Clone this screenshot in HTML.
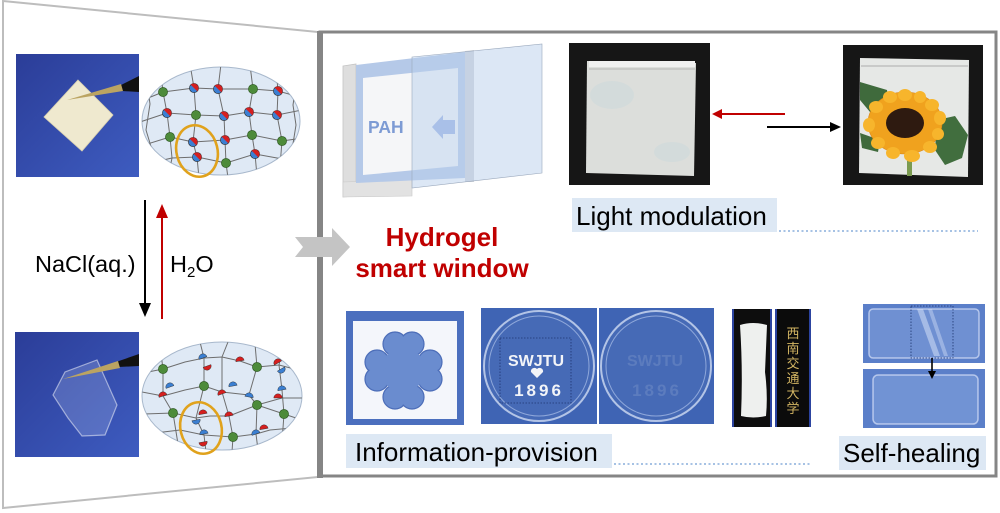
<!DOCTYPE html>
<html><head><meta charset="utf-8">
<style>
html,body{margin:0;padding:0;background:#fff;}
svg{display:block;}
text{font-family:"Liberation Sans",Arial,sans-serif;}
</style></head>
<body>
<svg width="1000" height="513" viewBox="0 0 1000 513" xmlns="http://www.w3.org/2000/svg">
<defs>
  <linearGradient id="lb" x1="0" y1="0" x2="1" y2="1">
    <stop offset="0" stop-color="#2b3d98"/><stop offset="1" stop-color="#3e5cc0"/>
  </linearGradient>
  <clipPath id="c1"><ellipse cx="221" cy="121" rx="79" ry="54"/></clipPath>
  <clipPath id="c2"><ellipse cx="222" cy="396" rx="80" ry="54"/></clipPath>
  <g id="bi"><circle r="4.6" fill="#3b7fd2" stroke="#2a2a2a" stroke-width="0.6"/><path d="M-3.25,-3.25 A4.6,4.6 0 0 1 3.25,3.25 Z" fill="#d51f1f"/></g>
  <g id="gr"><circle r="4.6" fill="#4d8b3a" stroke="#2c5520" stroke-width="0.6"/></g>
  <path id="hb" d="M-4.2,0 A4.2,4.2 0 0 1 4.2,0 Z" fill="#3b7fd2" stroke="#2a2a2a" stroke-width="0.4"/>
  <path id="hr" d="M-4.2,0 A4.2,4.2 0 0 1 4.2,0 Z" fill="#d51f1f" stroke="#2a2a2a" stroke-width="0.4"/>
</defs>

<!-- left trapezoid panel -->
<polygon points="3,1 318,32 318,477 3,508" fill="#fff" stroke="#bdbdbd" stroke-width="2"/>

<!-- right panel -->
<rect x="320" y="32" width="676" height="444" fill="#fff" stroke="#858585" stroke-width="3"/>
<rect x="317" y="31" width="6" height="447" fill="#858585"/>

<!-- ===== LEFT TOP PHOTO ===== -->
<rect x="16" y="54" width="123" height="123" fill="url(#lb)"/>
<polygon points="78,80 113,115 82,151 44,117" fill="#efe9cf" stroke="#d8d0b0" stroke-width="0.8"/>
<polygon points="139,76 139,92 122,91 119,86" fill="#111"/>
<polygon points="121,84 123,91 67,100" fill="#bba462"/>

<!-- network 1 -->
<ellipse cx="221" cy="121" rx="79" ry="54" fill="#dfe9f5" stroke="#a8b8cc" stroke-width="1"/>
<g clip-path="url(#c1)" fill="none" stroke="#6e6e6e" stroke-width="1" stroke-linejoin="round">
  <polyline points="138,102 163,92 194,88 218,89 253,89 278,91 303,98"/>
  <polyline points="140,122 167,113 196,115 224,116 249,112 277,115 302,110"/>
  <polyline points="141,146 170,137 193,142 225,140 252,135 282,141 303,138"/>
  <polyline points="150,163 172,158 197,157 226,163 255,154 288,160"/>
  <polyline points="160,66 163,92 167,113 170,137 172,158 168,178"/>
  <polyline points="190,64 194,88 196,115 193,142 197,157 199,178"/>
  <polyline points="221,64 218,89 224,116 225,140 226,163 228,178"/>
  <polyline points="250,65 253,89 249,112 252,135 255,154 257,176"/>
  <polyline points="276,68 278,91 277,115 282,141 280,166"/>
  <polyline points="147,82 150,104 146,130 152,150"/>
  <polyline points="296,85 293,105 296,125 292,150"/>
</g>
<use href="#gr" x="163" y="92"/><use href="#gr" x="196" y="115"/><use href="#gr" x="170" y="137"/>
<use href="#gr" x="253" y="89"/><use href="#gr" x="252" y="135"/><use href="#gr" x="282" y="141"/><use href="#gr" x="226" y="163"/>
<use href="#bi" x="194" y="88"/><use href="#bi" x="218" y="89"/><use href="#bi" x="278" y="91"/>
<use href="#bi" x="167" y="113"/><use href="#bi" x="224" y="116"/><use href="#bi" x="249" y="112"/><use href="#bi" x="277" y="115"/>
<use href="#bi" x="193" y="142"/><use href="#bi" x="225" y="140"/><use href="#bi" x="197" y="157"/><use href="#bi" x="255" y="154"/>
<ellipse cx="197" cy="151" rx="20.5" ry="26" transform="rotate(-14 197 151)" fill="none" stroke="#e0a21c" stroke-width="2.6"/>

<!-- arrows left -->
<line x1="145" y1="200" x2="145" y2="306" stroke="#000" stroke-width="2"/>
<polygon points="139,303 151,303 145,317" fill="#000"/>
<line x1="162" y1="216" x2="162" y2="319" stroke="#c00000" stroke-width="2"/>
<polygon points="156,218 168,218 162,204" fill="#c00000"/>
<text x="35" y="272" font-size="23.5" fill="#000">NaCl(aq.)</text>
<text x="170" y="272" font-size="23.5" fill="#000">H<tspan font-size="15" dy="5">2</tspan><tspan dy="-5">O</tspan></text>

<!-- ===== LEFT BOTTOM PHOTO ===== -->
<rect x="15" y="332" width="124" height="125" fill="url(#lb)"/>
<polygon points="53,395 65,372 97,360 117,405 105,435 82,436 68,418" fill="rgba(200,215,245,0.22)" stroke="rgba(255,255,255,0.5)" stroke-width="1.2"/>
<polygon points="139,354 139,366 118,367 116,362" fill="#111"/>
<polygon points="118,361 120,368 63,379" fill="#bba462"/>

<!-- network 2 -->
<ellipse cx="222" cy="396" rx="80" ry="54" fill="#dfe9f5" stroke="#a8b8cc" stroke-width="1"/>
<g clip-path="url(#c2)" fill="none" stroke="#6e6e6e" stroke-width="1" stroke-linejoin="round">
  <polyline points="143,373 163,369 185,362 204,358 222,357 240,361 257,367 279,365 302,371"/>
  <polyline points="142,392 163,396 185,390 204,386 222,392 249,395 257,405 282,398 303,398"/>
  <polyline points="144,414 173,413 196,418 210,416 229,416 257,405 284,414 302,420"/>
  <polyline points="155,433 180,430 204,435 233,437 256,434 270,430 292,428"/>
  <polyline points="160,346 163,369 163,396 173,413 178,444"/>
  <polyline points="200,342 204,358 204,386 196,418 204,435 206,452"/>
  <polyline points="228,342 222,357 222,392 229,416 233,437 232,452"/>
  <polyline points="255,344 257,367 249,395 257,405 256,434 258,450"/>
  <polyline points="282,349 279,365 282,390 284,414 282,442"/>
</g>
<use href="#gr" x="163" y="369"/><use href="#gr" x="204" y="386"/><use href="#gr" x="257" y="367"/>
<use href="#gr" x="173" y="413"/><use href="#gr" x="257" y="405"/><use href="#gr" x="284" y="414"/><use href="#gr" x="233" y="437"/>
<use href="#hb" transform="translate(203,358) rotate(-20)"/><use href="#hr" transform="translate(207,366) rotate(160)"/>
<use href="#hr" transform="translate(240,361) rotate(-10)"/>
<use href="#hr" transform="translate(278,363) rotate(-30)"/><use href="#hb" transform="translate(281,369) rotate(150)"/>
<use href="#hb" transform="translate(170,387) rotate(-20)"/>
<use href="#hr" transform="translate(163,396) rotate(-20)"/>
<use href="#hb" transform="translate(233,386) rotate(-10)"/>
<use href="#hr" transform="translate(222,394) rotate(-20)"/>
<use href="#hb" transform="translate(249,397) rotate(10)"/>
<use href="#hb" transform="translate(282,390) rotate(-10)"/>
<use href="#hr" transform="translate(278,398) rotate(0)"/>
<use href="#hr" transform="translate(203,414) rotate(-10)"/><use href="#hb" transform="translate(196,420) rotate(170)"/>
<use href="#hr" transform="translate(229,416) rotate(-10)"/>
<use href="#hb" transform="translate(204,434) rotate(-10)"/><use href="#hr" transform="translate(203,442) rotate(170)"/>
<use href="#hb" transform="translate(256,434) rotate(-20)"/>
<use href="#hr" transform="translate(264,429) rotate(-10)"/>
<ellipse cx="201" cy="428" rx="20.5" ry="26" transform="rotate(-14 201 428)" fill="none" stroke="#e0a21c" stroke-width="2.6"/>

<!-- ===== big gray arrow ===== -->
<polygon points="295,237 332,237 332,228 350,247 332,266 332,257 295,257 303,247" fill="#c4c4c4"/>

<!-- ===== window illustration ===== -->
<polygon points="343,66 356,64 356,196 343,197" fill="#dedede" stroke="#c4c4c4" stroke-width="0.8"/>
<polygon points="343,182 412,180 412,196 343,197" fill="#e2e2e2" stroke="#c8c8c8" stroke-width="0.6"/>
<polygon points="465,51 474,50 474,182 465,182" fill="#d2d5da"/>
<polygon points="356,65 465,52 465,178 356,183" fill="#b5c9e8"/>
<polygon points="363,78 458,68 458,166 363,175" fill="#f5f6f8"/>
<text x="368" y="133" font-size="17.5" font-weight="bold" fill="#7d9bd4">PAH</text>
<polygon points="412,57 542,44 542,173 412,188" fill="rgba(185,208,236,0.5)" stroke="#9aa8bc" stroke-width="0.6"/>
<polygon points="432,127 443,115 443,120 455,120 455,134 443,134 443,139" fill="#a9c0e8"/>

<text x="442" y="246" font-size="26" font-weight="bold" fill="#c00000" text-anchor="middle">Hydrogel</text>
<text x="442" y="277" font-size="26" font-weight="bold" fill="#c00000" text-anchor="middle">smart window</text>

<!-- ===== light modulation photos ===== -->
<rect x="569" y="43" width="141" height="142" fill="#161616"/>
<polygon points="587,61 696,63 694,176 586,173" fill="#dcdedb"/>
<rect x="589" y="61" width="106" height="6" fill="#f0f0f0"/>
<line x1="589" y1="69" x2="695" y2="69" stroke="#aaa" stroke-width="0.8"/>
<ellipse cx="612" cy="95" rx="22" ry="14" fill="rgba(195,215,222,0.35)"/>
<ellipse cx="672" cy="152" rx="18" ry="10" fill="rgba(195,215,222,0.35)"/>

<line x1="785" y1="114" x2="720" y2="114" stroke="#c00000" stroke-width="2"/>
<polygon points="722,109 722,119 712,114" fill="#c00000"/>
<line x1="767" y1="127" x2="832" y2="127" stroke="#000" stroke-width="2"/>
<polygon points="830,122 830,132 841,127" fill="#000"/>

<rect x="843" y="45" width="140" height="140" fill="#161616"/>
<polygon points="860,58 969,60 968,177 859,173" fill="#e6e8e6"/>
<line x1="861" y1="66" x2="968" y2="66" stroke="#999" stroke-width="0.8"/>
<polygon points="860,82 887,90 890,110 870,112 860,100" fill="#3f6a3c"/>
<polygon points="937,120 955,116 968,135 962,158 945,165 935,150" fill="#416e3e"/>
<polygon points="860,133 880,140 878,152 862,148" fill="#3f6a3c"/>
<rect x="907" y="150" width="5" height="26" fill="#7a9a50"/>
<g fill="#f0a21e" stroke="#d98512" stroke-width="0.6">
  <ellipse cx="905" cy="123" rx="37" ry="31"/>
</g>
<g fill="#f7b52c">
  <ellipse cx="905" cy="95" rx="7" ry="6"/><ellipse cx="920" cy="97" rx="6" ry="6"/><ellipse cx="932" cy="105" rx="7" ry="6"/><ellipse cx="940" cy="118" rx="6" ry="7"/>
  <ellipse cx="938" cy="134" rx="6" ry="6"/><ellipse cx="930" cy="147" rx="7" ry="6"/><ellipse cx="912" cy="156" rx="8" ry="6"/><ellipse cx="893" cy="153" rx="7" ry="6"/><ellipse cx="878" cy="143" rx="7" ry="6"/>
  <ellipse cx="869" cy="125" rx="6" ry="7"/><ellipse cx="876" cy="107" rx="7" ry="6"/><ellipse cx="890" cy="97" rx="7" ry="6"/>
</g>
<ellipse cx="905" cy="123" rx="19" ry="15" fill="#2e1a10"/>

<rect x="572" y="198" width="205" height="34" fill="#dde8f4"/>
<text x="576" y="225" font-size="26" fill="#000">Light modulation</text>
<line x1="779" y1="231" x2="978" y2="231" stroke="#a6c2e4" stroke-width="2" stroke-dasharray="2 2.5"/>

<!-- ===== information photos ===== -->
<rect x="346" y="311" width="118" height="114" fill="#4b6fbe"/>
<rect x="353" y="321" width="104" height="98" fill="#f4f6fb"/>
<g fill="#6a8ccf" stroke="#4c6db8" stroke-width="1.2">
  <circle cx="395" cy="344" r="12"/><circle cx="412" cy="344" r="12"/>
  <circle cx="395" cy="397" r="12"/><circle cx="412" cy="397" r="12"/>
  <circle cx="377" cy="362" r="12"/><circle cx="377" cy="379" r="12"/>
  <circle cx="430" cy="362" r="12"/><circle cx="430" cy="379" r="12"/>
</g>
<g fill="#6a8ccf">
  <circle cx="403" cy="370" r="22"/>
  <circle cx="395" cy="344" r="11"/><circle cx="412" cy="344" r="11"/>
  <circle cx="395" cy="397" r="11"/><circle cx="412" cy="397" r="11"/>
  <circle cx="377" cy="362" r="11"/><circle cx="377" cy="379" r="11"/>
  <circle cx="430" cy="362" r="11"/><circle cx="430" cy="379" r="11"/>
</g>

<rect x="481" y="308" width="116" height="116" fill="#3f64b4"/>
<circle cx="539" cy="366" r="55" fill="rgba(255,255,255,0.04)" stroke="#b3c4e6" stroke-width="2"/>
<circle cx="539" cy="366" r="50" fill="none" stroke="#8ea7da" stroke-width="1"/>
<rect x="500" y="338" width="71" height="65" fill="none" stroke="#1f3570" stroke-width="0.8" stroke-dasharray="1.5 1.5"/>
<text x="536" y="366" font-size="16" font-weight="bold" fill="#f2f4f8" text-anchor="middle">SWJTU</text>
<path d="M537,378 l-6,-6 a3.5,3.5 0 0 1 6,-3 a3.5,3.5 0 0 1 6,3 z" fill="#f2f4f8"/>
<text x="539" y="396" font-size="17" font-weight="bold" fill="#f2f4f8" text-anchor="middle" letter-spacing="3">1896</text>

<rect x="599" y="308" width="115" height="116" fill="#3f64b4"/>
<circle cx="656" cy="366" r="55" fill="rgba(255,255,255,0.04)" stroke="#b3c4e6" stroke-width="2"/>
<circle cx="656" cy="366" r="50" fill="none" stroke="#8ea7da" stroke-width="1"/>
<text x="655" y="366" font-size="16" font-weight="bold" fill="rgba(255,255,255,0.12)" text-anchor="middle">SWJTU</text>
<text x="657" y="396" font-size="17" font-weight="bold" fill="rgba(255,255,255,0.12)" text-anchor="middle" letter-spacing="3">1896</text>

<!-- sticks -->
<rect x="732" y="309" width="40" height="118" fill="#2c44a0"/>
<rect x="734" y="309" width="36" height="118" fill="#0d0d0d"/>
<path d="M740,325 Q753,321 767,325 L765,372 Q768,395 766,416 Q753,419 741,416 Q743,370 740,325 Z" fill="#eef0ee"/>
<rect x="775" y="309" width="36" height="118" fill="#2c44a0"/>
<rect x="777" y="309" width="32" height="118" fill="#0b0b0b"/>
<g font-family="'Noto Serif CJK SC','Noto Sans CJK SC',serif" font-size="13" fill="#d3b563" text-anchor="middle">
  <text x="793" y="338">西</text><text x="793" y="353">南</text><text x="793" y="368">交</text>
  <text x="793" y="383">通</text><text x="793" y="398">大</text><text x="793" y="413">学</text>
</g>

<rect x="346" y="434" width="266" height="34" fill="#dde8f4"/>
<text x="355" y="461" font-size="26" fill="#000">Information-provision</text>
<line x1="614" y1="464" x2="812" y2="464" stroke="#a6c2e4" stroke-width="2" stroke-dasharray="2 2.5"/>

<!-- self-healing -->
<rect x="863" y="304" width="122" height="59" fill="#5b7fc9"/>
<rect x="869" y="309" width="110" height="49" rx="4" fill="#6f90d2" stroke="rgba(235,240,255,0.6)" stroke-width="1.5"/>
<polygon points="917,309 923,309 940,356 934,356" fill="rgba(220,230,250,0.5)"/>
<polygon points="928,309 932,309 948,356 944,356" fill="rgba(220,230,250,0.4)"/>
<rect x="911" y="306" width="42" height="52" fill="none" stroke="#1f3570" stroke-width="0.8" stroke-dasharray="1.5 1.5"/>
<rect x="863" y="369" width="122" height="59" fill="#5b7fc9"/>
<rect x="873" y="375" width="105" height="49" rx="5" fill="#7193d4" stroke="rgba(235,240,255,0.6)" stroke-width="1.5"/>
<line x1="932" y1="358" x2="932" y2="372" stroke="#000" stroke-width="1.6"/>
<polygon points="928,371 936,371 932,379" fill="#000"/>

<rect x="839" y="436" width="147" height="34" fill="#dde8f4"/>
<text x="843" y="462" font-size="26" fill="#000">Self-healing</text>
</svg>
</body></html>
